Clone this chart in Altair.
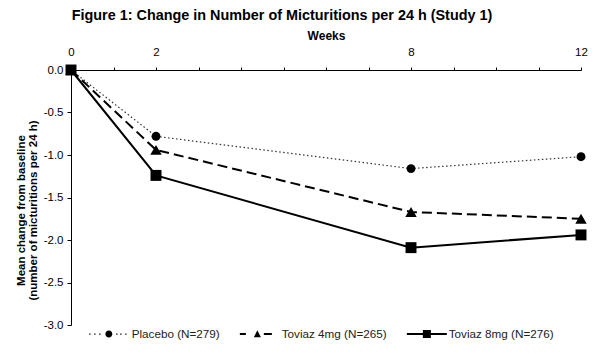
import json
import altair as alt
import pandas as pd

# ---- data ----
weeks = [0, 2, 8, 12]
placebo = [0.0, -0.78, -1.16, -1.02]
toviaz4 = [0.0, -0.94, -1.67, -1.75]
toviaz8 = [0.0, -1.24, -2.09, -1.94]
series_names = ["Placebo (N=279)", "Toviaz 4mg (N=265)", "Toviaz 8mg (N=276)"]
x_tick_values = list(range(0, 13))
x_label_values = [0, 2, 8, 12]
y_tick_values = [0.0, -0.5, -1.0, -1.5, -2.0, -2.5, -3.0]

rows = []
for name, vals in zip(series_names, [placebo, toviaz4, toviaz8]):
    for w, v in zip(weeks, vals):
        rows.append({"week": w, "change": v, "series": name})
df = pd.DataFrame(rows)

FONT = "Liberation Sans"

# ---- styles ----
styles = {
    series_names[0]: dict(color="#333333", width=1.2, dash=[1.5, 2.5], shape="circle", size=80),
    series_names[1]: dict(color="black", width=2, dash=[10, 5], shape="triangle-up", size=130),
    series_names[2]: dict(color="black", width=2, dash=None, shape="square", size=120),
}


def rect(x0, x1, y0, y1):
    return f"M{x0},{y0}L{x1},{y0}L{x1},{y1}L{x0},{y1}Z"


def circ(cx, r):
    return f"M{cx - r},0A{r},{r} 0 1,0 {cx + r},0A{r},{r} 0 1,0 {cx - r},0Z"


legend_paths = [
    "".join(rect(d - 0.13, d + 0.13, -0.13, 0.13) for d in [-1, 0, 1, 4.4, 5.2, 6.2]) + circ(2.8, 0.7),
    rect(-1, 0.2, -0.2, 0.2) + "M1.8,0.65L2.5,-0.75L3.2,0.65Z" + rect(3.8, 5.4, -0.2, 0.2),
    rect(-1, 7, -0.2, 0.2) + rect(2.2, 3.8, -0.8, 0.8),
]

label_expr = f"indexof({json.dumps(x_label_values)}, datum.value) >= 0 ? datum.label : ''"
y_label_expr = "datum.value < 0 ? '-' + format(-datum.value, '.1f') : format(datum.value, '.1f')"

x_enc = alt.X(
    "week:Q",
    scale=alt.Scale(domain=[0, 12], nice=False, zero=False),
    axis=alt.Axis(
        orient="top", values=x_tick_values, labelExpr=label_expr, grid=False,
        tickSize=3, labelPadding=12, labelBaseline="alphabetic", labelFlush=False,
        labelOverlap=False, labelFontSize=11.5, titleFontSize=12, titleFontWeight="bold",
        titleY=-31, titleBaseline="alphabetic",
    ),
    title="Weeks",
)
y_enc = alt.Y(
    "change:Q",
    scale=alt.Scale(domain=[-3, 0], nice=False, zero=False),
    axis=alt.Axis(
        values=y_tick_values, labelExpr=y_label_expr, grid=False, tickSize=4, labelPadding=4,
        labelFlush=False, labelOverlap=False, labelFontSize=11.5, titleFontSize=11.5,
        titleFontWeight="bold", titleAngle=270, titleX=-47, titleY=140,
        titleBaseline="alphabetic", titleAlign="center", titleLineHeight=12,
    ),
    title=["Mean change from  baseline", "(number of micturitions per 24 h)"],
)

base = alt.Chart(df)
layers = []
for name in series_names:
    s = styles[name]
    kw = dict(color=s["color"], strokeWidth=s["width"])
    if s["dash"]:
        kw["strokeDash"] = s["dash"]
    layers.append(base.transform_filter(alt.datum.series == name).mark_line(**kw).encode(x=x_enc, y=y_enc))
for name in series_names:
    s = styles[name]
    layers.append(
        base.transform_filter(alt.datum.series == name)
        .mark_point(filled=True, opacity=1, color="black", shape=s["shape"], size=s["size"])
        .encode(x=x_enc, y=y_enc)
    )

legend_layer = (
    base.transform_filter("datum.week < 0")
    .mark_point(filled=True, opacity=1, color="black", size=100)
    .encode(
        x=x_enc,
        y=y_enc,
        shape=alt.Shape(
            "series:N",
            scale=alt.Scale(domain=series_names, range=legend_paths),
            legend=alt.Legend(
                orient="none", legendX=18, legendY=258, direction="horizontal", title=None,
                labelFont=FONT, labelFontSize=11.7, labelColor="#222222", labelOffset=31,
                columnPadding=19, symbolSize=100, symbolStrokeWidth=0,
                symbolFillColor="black", symbolOpacity=1,
            ),
        ),
    )
)
layers.append(legend_layer)

chart = (
    alt.layer(*layers)
    .properties(
        width=510,
        height=255,
        autosize=alt.AutoSizeParams(type="none"),
        padding={"left": 63, "top": 62, "right": 7, "bottom": 25},
        title=alt.TitleParams(
            "Figure 1: Change in Number of Micturitions per 24 h (Study 1)",
            font=FONT, fontSize=14.4, fontWeight="bold", anchor="middle", dx=-44, offset=6,
            color="black",
        ),
    )
    .configure_view(stroke=None)
    .configure_axis(
        labelFont=FONT, titleFont=FONT, labelColor="black", titleColor="black",
        domainColor="black", tickColor="black",
    )
)

chart.save("out.html", embed_options={"renderer": "svg", "actions": False})
